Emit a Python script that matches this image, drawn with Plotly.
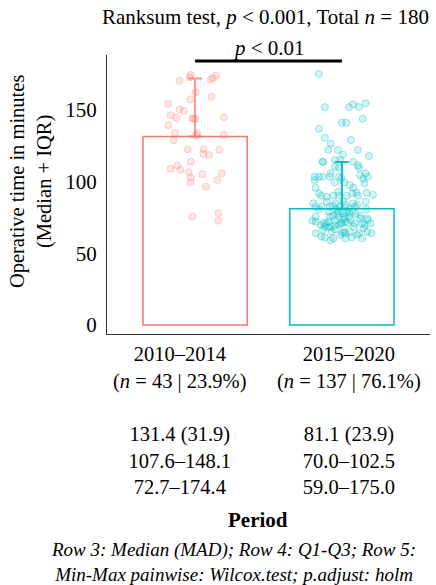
import plotly.graph_objects as go

# ---- data ----
categories = ["2010–2014", "2015–2020"]
n_obs = [43, 137]
pct = [23.9, 76.1]
medians = [131.4, 81.1]
mads = [31.9, 23.9]
q1 = [107.6, 70.0]
q3 = [148.1, 102.5]
mins = [72.7, 59.0]
maxs = [174.4, 175.0]

# individual observations (jitter offset from category centre, value in minutes)
g1_jitter = [-0.031, -0.037, -0.106, 0.106, 0.121, 0.144, 0.003, -0.031, 0.112, -0.183,
             -0.106, -0.076, -0.167, -0.128, -0.019, 0.003, 0.196, -0.183, -0.138, 0.015,
             0.008, 0.196, -0.146, -0.051, 0.058, 0.165, 0.056, 0.094, -0.029, -0.121,
             -0.167, -0.099, -0.044, 0.049, 0.181, -0.029, -0.031, 0.151, 0.074, -0.019,
             0.158, 0.158, -0.008]
g1_values = [174.4, 172.6, 170.2, 171.2, 172.0, 173.9, 162.2, 157.3, 159.1, 154.2,
             150.3, 149.3, 146.3, 144.5, 143.8, 143.6, 144.8, 139.2, 133.8, 133.5,
             132.2, 132.6, 128.9, 122.4, 122.7, 122.2, 119.2, 118.5, 113.8, 111.3,
             108.9, 108.2, 106.6, 105.0, 105.7, 102.6, 99.4, 101.0, 96.4, 75.5,
             78.0, 72.7, 144.0]

g2_jitter = [-0.157, -0.116, 0.048, 0.077, 0.116, 0.161, 0.141, -0.002, 0.030, -0.157,
             -0.116, 0.061, -0.077, -0.093, -0.027, 0.109, 0.007, 0.184, -0.132, -0.128,
             -0.048, -0.009, 0.077, 0.109, -0.048, -0.020, 0.116, -0.077, -0.186, -0.157,
             -0.129, -0.082, -0.020, -0.002, 0.123, 0.161, 0.177, 0.145, -0.186, -0.048,
             0.014, 0.154, 0.054, 0.077, -0.179, 0.100, 0.168, 0.211, -0.141, -0.104,
             -0.059, -0.020, 0.032, 0.070, 0.109, -0.025, -0.195, -0.157, -0.179, -0.138,
             -0.084, -0.061, -0.039, -0.009, 0.025, 0.048, 0.089, 0.104, 0.168, -0.089,
             -0.025, 0.009, 0.030, 0.048, 0.077, 0.127, 0.173, -0.202, -0.179, -0.179,
             -0.123, -0.107, -0.082, -0.061, -0.048, -0.020, -0.009, 0.007, 0.025, 0.041,
             0.059, 0.089, 0.123, 0.138, 0.154, 0.177, 0.195, -0.116, -0.129, -0.095,
             -0.048, 0.014, 0.025, 0.054, 0.116, 0.173, 0.202, -0.179, -0.141, -0.116,
             -0.077, -0.059, -0.009, 0.025, 0.066, 0.138, 0.104, 0.002, -0.048, -0.020,
             -0.077, 0.082, 0.150, -0.145, -0.093, 0.048, 0.093, -0.032, 0.018, 0.161,
             -0.104, 0.009, -0.043, 0.075, -0.157, 0.002, -0.070]
g2_values = [175.0, 151.9, 151.9, 153.8, 151.9, 154.5, 143.8, 141.0, 141.0, 136.8,
             130.5, 128.9, 126.4, 122.0, 122.0, 122.0, 118.7, 117.8, 113.8, 113.6,
             115.0, 115.0, 113.8, 111.3, 110.3, 109.6, 109.6, 105.7, 103.4, 103.4,
             103.4, 103.4, 103.4, 102.4, 104.5, 105.7, 103.4, 102.0, 101.0, 99.4,
             99.4, 98.7, 97.6, 95.7, 95.7, 92.2, 92.2, 90.8, 90.1, 89.4,
             90.1, 90.1, 90.1, 91.8, 90.1, 92.9, 84.8, 80.6, 82.5, 82.5,
             82.5, 82.9, 80.6, 82.5, 83.6, 81.3, 82.5, 83.6, 80.6, 79.0,
             79.0, 77.8, 78.3, 78.5, 79.0, 76.2, 74.3, 72.7, 72.0, 75.5,
             71.3, 70.4, 75.5, 76.0, 72.7, 75.5, 70.8, 73.6, 72.0, 70.8,
             73.2, 70.8, 74.3, 70.8, 69.7, 73.2, 70.8, 68.5, 66.2, 68.1,
             66.7, 65.0, 63.9, 65.0, 63.9, 65.0, 63.9, 63.9, 61.6, 61.1,
             59.0, 60.4, 62.7, 60.4, 61.1, 60.4, 62.7, 64.3, 69.7, 69.7,
             68.5, 68.5, 67.4, 69.7, 72.0, 75.5, 77.4, 77.4, 75.5, 85.9,
             85.9, 85.9, 84.8, 84.8, 91.8, 70.9, 65.0]

colors = ["#F8766D", "#00BFC4"]
pt_fill = ["rgba(248,118,109,0.18)", "rgba(0,191,196,0.18)"]
pt_line = ["rgba(248,118,109,0.30)", "rgba(0,191,196,0.35)"]
err_col = ["rgba(248,118,109,0.75)", "rgba(0,191,196,0.95)"]

FONT = "Liberation Serif, Times New Roman, serif"

fig = go.Figure()

# bars (median) with upward IQR error bar
for i in range(2):
    iqr = round(q3[i] - q1[i], 1)
    fig.add_trace(go.Bar(
        x=[i], y=[medians[i]], width=0.71,
        marker=dict(color="rgba(255,255,255,0)", line=dict(color=colors[i], width=1.5)),
        error_y=dict(type="data", symmetric=False, array=[iqr], arrayminus=[0],
                     color=err_col[i], thickness=2, width=7),
        showlegend=False, hoverinfo="skip"))

# jittered points
for i, (jit, vals) in enumerate([(g1_jitter, g1_values), (g2_jitter, g2_values)]):
    fig.add_trace(go.Scatter(
        x=[i + j for j in jit], y=vals, mode="markers",
        marker=dict(size=7, color=pt_fill[i], line=dict(color=pt_line[i], width=1)),
        showlegend=False, hoverinfo="skip"))

# category label blocks (placed like the reference, slightly apart from bar centres)
label_x = [0.226, 0.749]
label_blocks = []
for i in range(2):
    txt = (f"{categories[i]}<br>(<i>n</i> = {n_obs[i]} | {pct[i]:.1f}%)<br> <br>"
           f"{medians[i]:.1f} ({mads[i]:.1f})<br>{q1[i]:.1f}–{q3[i]:.1f}<br>"
           f"{mins[i]:.1f}–{maxs[i]:.1f}")
    label_blocks.append(dict(text=txt, xref="paper", yref="paper", x=label_x[i], y=-0.026,
                             xanchor="center", yanchor="top", showarrow=False,
                             font=dict(size=20.5, family=FONT)))

fig.update_layout(
    width=436, height=585,
    margin=dict(l=107, r=6, t=55, b=251),
    paper_bgcolor="white", plot_bgcolor="white",
    barmode="overlay",
    font=dict(family=FONT, size=21, color="black"),
    xaxis=dict(range=[-0.6, 1.6], tickvals=[0, 1], showticklabels=False,
               showline=True, linecolor="#333", linewidth=1, showgrid=False,
               zeroline=False, ticks=""),
    yaxis=dict(range=[-6.27, 188.2], tickvals=[0, 50, 100, 150],
               showline=True, linecolor="#333", linewidth=1, showgrid=False,
               zeroline=False, ticks="", ticklabelstandoff=5,
               tickfont=dict(size=21, family=FONT)),
    shapes=[dict(type="line", xref="x", yref="y", x0=0, x1=1, y0=184, y1=184,
                 line=dict(color="black", width=3))],
    annotations=label_blocks + [
        dict(text="Ranksum test, <i>p</i> &lt; 0.001, Total <i>n</i> = 180",
             xref="paper", yref="paper", x=0.492, y=1.136, xanchor="center", yanchor="middle",
             showarrow=False, font=dict(size=21, family=FONT)),
        dict(text="<i>p</i> &lt; 0.01", xref="x", yref="paper", x=0.5, y=1.025,
             xanchor="center", yanchor="middle", showarrow=False,
             font=dict(size=21, family=FONT)),
        dict(text="Operative time in minutes<br>(Median + IQR)", textangle=-90,
             xref="paper", yref="paper", x=-0.2353, y=0.548, xanchor="center", yanchor="middle",
             showarrow=False, font=dict(size=20.5, family=FONT)),
        dict(text="<b>Period</b>", xref="paper", yref="paper", x=0.4675, y=-0.6667,
             xanchor="center", yanchor="middle", showarrow=False,
             font=dict(size=21, family=FONT)),
        dict(text="<i>Row 3: Median (MAD); Row 4: Q1-Q3; Row 5:</i><br>"
                  "<i>Min-Max painwise: Wilcox.test; p.adjust: holm</i>",
             xref="paper", yref="paper", x=0.393, y=-0.818, xanchor="center", yanchor="middle",
             showarrow=False, font=dict(size=19, family=FONT)),
    ],
)

fig.write_html("out.html", post_script="document.body.style.margin='0';",
               config={"displayModeBar": False})
